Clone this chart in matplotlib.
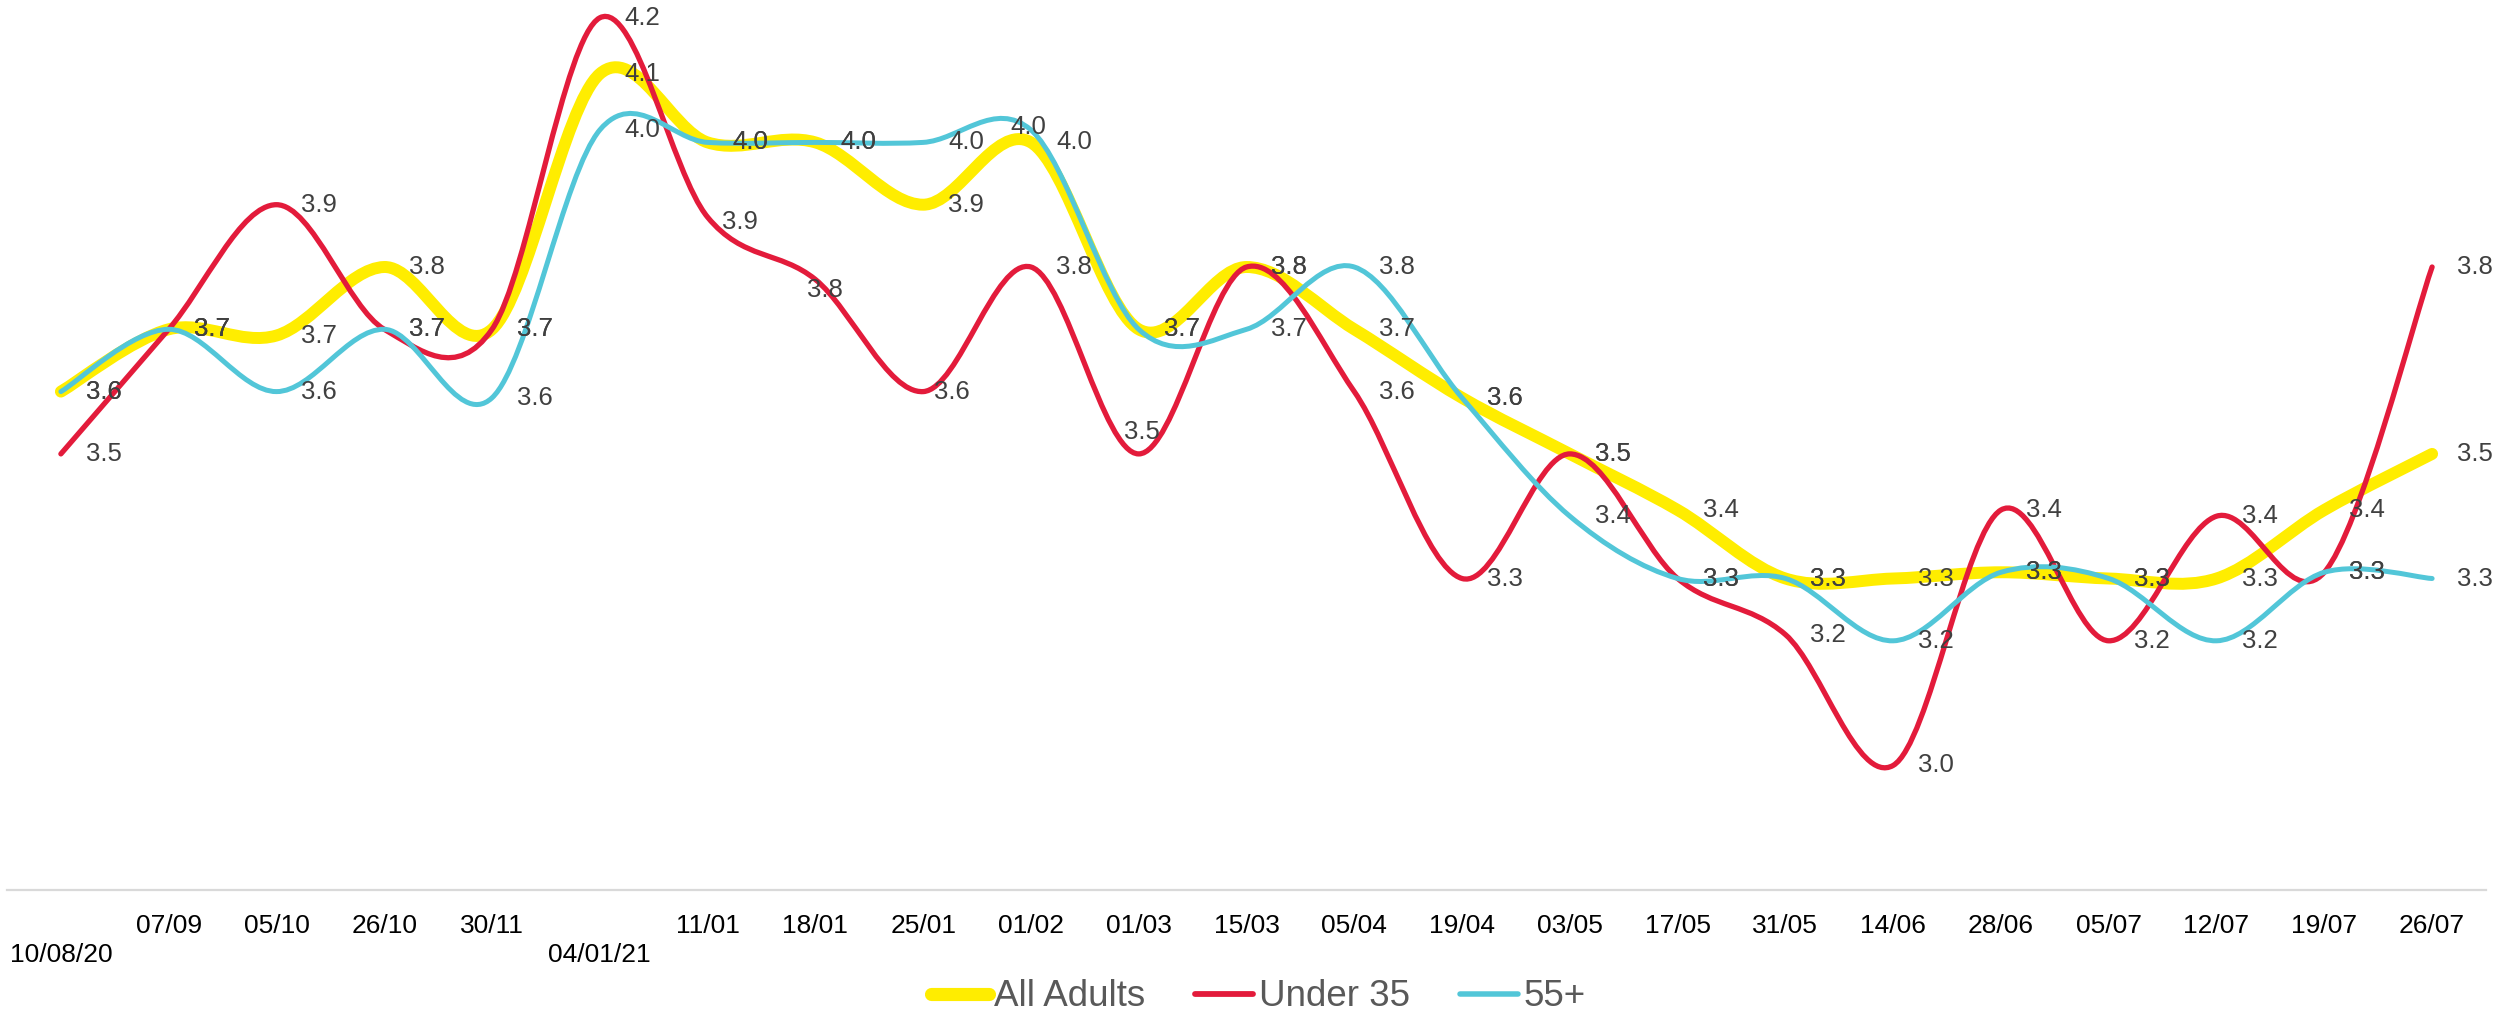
import numpy as np
import matplotlib
matplotlib.use('Agg')
import matplotlib.pyplot as plt
from matplotlib.path import Path
from matplotlib.patches import PathPatch
from matplotlib.lines import Line2D
import matplotlib.transforms as mtransforms

plt.rcParams['font.family'] = ['Liberation Sans', 'DejaVu Sans']

dates = ['10/08/20', '07/09', '05/10', '26/10', '30/11', '04/01/21', '11/01', '18/01',
         '25/01', '01/02', '01/03', '15/03', '05/04', '19/04', '03/05', '17/05',
         '31/05', '14/06', '28/06', '05/07', '12/07', '19/07', '26/07']

all_adults = [3.60, 3.70, 3.69, 3.80, 3.70, 4.11, 4.00, 4.00, 3.90, 4.00, 3.70, 3.80,
              3.70, 3.59, 3.50, 3.41, 3.30, 3.30, 3.31, 3.30, 3.30, 3.41, 3.50]
under_35 = [3.50, 3.70, 3.90, 3.70, 3.70, 4.20, 3.88, 3.78, 3.60, 3.80, 3.50, 3.80,
            3.60, 3.30, 3.50, 3.30, 3.21, 3.00, 3.41, 3.20, 3.40, 3.31, 3.80]
over_55 = [3.60, 3.70, 3.60, 3.70, 3.59, 4.02, 4.00, 4.00, 4.00, 4.02, 3.70, 3.70,
           3.80, 3.59, 3.40, 3.30, 3.30, 3.20, 3.31, 3.30, 3.20, 3.31, 3.30]

series = [
    ('All Adults', all_adults, '#FFED00', 8.6),
    ('Under 35', under_35, '#E31B3B', 3.8),
    ('55+', over_55, '#52C6D8', 3.6),
]

# label offsets in pixels that differ from the default (right of the point)
label_tweaks = {
    ('Under 35', 10): (3, 22, 'center'),
    ('55+', 9): (-3, 3, 'center'),
    ('Under 35', 7): (10, -11, 'center'),
    ('Under 35', 8): (11, 0, 'left'),
    ('Under 35', 6): (14, -5, 'left'),
}


def smooth_path(y):
    # excel-like smoothed line: bezier segments with catmull-rom control points
    x = np.arange(len(y), dtype=float)
    y = np.asarray(y, dtype=float)
    px = np.concatenate([[x[0]], x, [x[-1]]])
    py = np.concatenate([[y[0]], y, [y[-1]]])
    verts = [(x[0], y[0])]
    codes = [Path.MOVETO]
    for i in range(len(y) - 1):
        c1 = (px[i + 1] + (px[i + 2] - px[i]) / 6, py[i + 1] + (py[i + 2] - py[i]) / 6)
        c2 = (px[i + 2] - (px[i + 3] - px[i + 1]) / 6, py[i + 2] - (py[i + 3] - py[i + 1]) / 6)
        verts += [c1, c2, (x[i + 1], y[i + 1])]
        codes += [Path.CURVE4] * 3
    return Path(verts, codes)


fig = plt.figure(figsize=(25.06, 10.10), dpi=100)
ax = fig.add_axes([7 / 2506, 120 / 1010, 2479 / 2506, 890 / 1010])
ax.set_xlim(-0.5, len(dates) - 0.5)
ax.set_ylim(2.8, 2.8 + 890 / 623)

for name, vals, col, lw in series:
    patch = PathPatch(smooth_path(vals), fill=False, edgecolor=col, linewidth=lw,
                      capstyle='round', joinstyle='round')
    ax.add_patch(patch)

for name, vals, col, lw in series:
    for i, v in enumerate(vals):
        dx, dy, ha = label_tweaks.get((name, i), (25, 0, 'left'))
        ax.annotate(f'{v:.1f}', (i, v), xytext=(dx, dy), textcoords='offset pixels',
                    ha=ha, va='center', fontsize=18.5, color='#404040')

for s in ['top', 'left', 'right']:
    ax.spines[s].set_visible(False)
ax.spines['bottom'].set_color('#d9d9d9')
ax.spines['bottom'].set_linewidth(1.6)
ax.set_yticks([])
ax.set_xticks(range(len(dates)))
ax.set_xticklabels(dates)
ax.tick_params(axis='x', length=0, pad=17, labelsize=19, labelcolor='black')

for i in (0, 5):
    lbl = ax.get_xticklabels()[i]
    lbl.set_transform(lbl.get_transform() +
                      mtransforms.ScaledTranslation(0, -0.29, fig.dpi_scale_trans))

handles = [Line2D([], [], color=c, lw=lw * 1.1, solid_capstyle='round') for _, _, c, lw in series]
fig.legend(handles, [s[0] for s in series], loc='center', bbox_to_anchor=(0.502, 13 / 1010),
           ncol=3, frameon=False, fontsize=26.5, handlelength=1.57, handletextpad=0.15,
           columnspacing=1.36, labelcolor='#595959', borderpad=0)

fig.savefig('out.png', dpi=100)
